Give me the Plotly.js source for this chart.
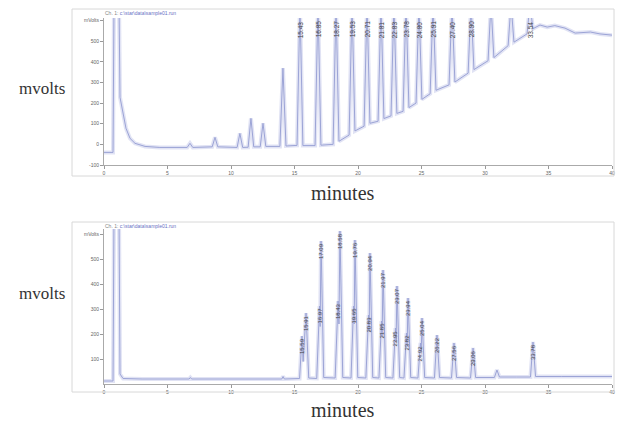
<!DOCTYPE html>
<html>
<head>
<meta charset="utf-8">
<script src="https://cdn.plot.ly/plotly-3.0.1.min.js"></script>
<style>html,body{margin:0;padding:0;background:#fff}#chart{width:625px;height:426px}</style>
</head>
<body>
<div id="chart"></div>
<script>
// ---- Top chromatogram ----
const topTime = [0,0.63,0.71,0.79,1.18,1.26,1.50,1.73,2.05,2.44,3.23,4.4,6.55,6.77,6.99,8.52,8.74,8.96,10.0,10.48,10.7,10.92,11.35,11.57,11.79,12.30,12.52,12.74,13.85,14.09,14.33,
  15.20,15.43,15.66,16.62,16.85,17.08,18.04,18.27,18.50,19.30,19.53,19.76,20.48,20.71,20.94,21.58,21.81,22.04,22.60,22.83,23.06,23.55,23.78,24.01,24.57,24.80,25.03,25.68,25.91,26.14,
  27.17,27.40,27.63,28.67,28.90,29.13,30.24,30.47,30.70,31.82,32.05,32.28,33.31,33.54,33.77,34.33,34.9,35.5,36.3,37.1,38.3,39.05,40];
const topSignal = [-39,-39,-39,700,700,228,141,78,29,5,-10,-15,-15,5,-15,-12,34,-12,-14,-15,53,-15,-14,126,-12,-12,102,-10,-10,369,-8,
  -5,680,-6,-6,680,-4,0,680,15,45,680,65,88,680,102,112,680,125,138,680,150,160,680,178,200,680,218,245,680,262,
  288,680,302,345,680,362,405,680,420,478,680,495,535,680,560,578,568,575,563,539,544,535,529];
const topLabelTime = [15.43,16.85,18.27,19.53,20.71,21.81,22.83,23.78,24.80,25.91,27.40,28.90,33.54];
const topLabelText = ["15.43","16.85","18.27","19.53","20.71","21.81","22.83","23.78","24.80","25.91","27.40","28.90","33.54"];

// ---- Bottom chromatogram ----
const botTime = [0,0.63,0.71,0.79,1.18,1.26,1.5,3,6.7,6.8,6.9,14.0,14.1,14.2,
  15.40,15.59,15.68,15.91,16.12,16.75,16.97,17.02,17.09,17.30,18.20,18.43,18.50,18.58,18.80,
  19.45,19.65,19.70,19.76,19.98,20.62,20.83,20.88,20.94,21.16,21.65,21.85,21.90,21.97,22.18,
  22.75,22.95,23.00,23.07,23.28,23.62,23.82,23.87,23.94,24.15,24.72,24.92,24.98,25.04,25.25,
  26.02,26.22,26.42,27.36,27.56,27.76,28.86,29.06,29.26,30.74,30.94,31.14,32.5,33.58,33.78,33.98,36,40];
const botSignal = [12,12,12,700,700,40,22,20,20,26,20,20,30,20,
  22,192,90,284,24,22,312,230,572,26,24,332,240,612,26,
  24,312,240,576,26,24,276,210,524,26,24,252,190,456,26,
  24,224,170,392,26,24,204,150,344,26,24,164,130,264,26,
  24,196,26,24,164,26,24,144,26,26,56,28,28,28,168,30,30,30];
const botLabelTime = [15.59,15.91,16.97,17.09,18.43,18.58,19.65,19.76,20.83,20.94,21.85,21.97,22.95,23.07,23.82,23.94,24.92,25.04,26.22,27.56,29.06,33.78];
const botLabelValue = [192,284,312,572,332,612,312,576,276,524,252,456,224,392,204,344,164,264,196,164,144,168];
const botLabelText = ["15.59","15.91","16.97","17.09","18.43","18.58","19.65","19.76","20.83","20.94","21.85","21.97","22.95","23.07","23.82","23.94","24.92","25.04","26.22","27.56","29.06","33.78"];

const xTicks = [0,5,10,15,20,25,30,35,40];
const xTickText = ["0","5","10","15","20","25","30","35","40"];
const topYTicks = [-100,0,100,200,300,400,500,600];
const topYText = ["-100","0","100","200","300","400","500","mVolts"];
const botYTicks = [100,200,300,400,500,600];
const botYText = ["100","200","300","400","500","mVolts"];

const W = 625, H = 426;
const px = v => v / W, py = v => 1 - v / H;

const traces = [];
[[topTime, topSignal, 'x', 'y'], [botTime, botSignal, 'x2', 'y2']].forEach(([xs, ys, xa, ya]) => {
  traces.push({x: xs, y: ys, type: 'scatter', mode: 'lines', xaxis: xa, yaxis: ya,
    line: {color: 'rgba(200,204,235,0.55)', width: 4}, hoverinfo: 'skip'});
  traces.push({x: xs, y: ys, type: 'scatter', mode: 'lines', xaxis: xa, yaxis: ya,
    line: {color: '#9ca4d6', width: 1}, hoverinfo: 'skip'});
});

const tickFont = {family: 'Liberation Sans, Arial, sans-serif', size: 5, color: '#666'};
function xAx(anchor) {
  return {domain: [px(104), px(612)], range: [0, 40], anchor: anchor, tickvals: xTicks, ticktext: xTickText,
    showline: true, linecolor: '#aaa', linewidth: 1, ticks: 'outside', ticklen: 3, tickcolor: '#999',
    tickfont: tickFont, showgrid: false, zeroline: false, fixedrange: true};
}
function yAx(anchor, dom, rng, tv, tt) {
  return {domain: dom, range: rng, anchor: anchor, tickvals: tv, ticktext: tt,
    showline: true, linecolor: '#aaa', linewidth: 1, ticks: 'outside', ticklen: 3, tickcolor: '#999',
    tickfont: tickFont, showgrid: false, zeroline: false, fixedrange: true};
}

const annotations = [];
topLabelTime.forEach((t, i) => annotations.push({x: t, y: 608, xref: 'x', yref: 'y', text: topLabelText[i],
  showarrow: false, textangle: -90, yanchor: 'top', xanchor: 'center',
  font: {family: 'Liberation Sans, Arial, sans-serif', size: 6.5, color: '#444'}}));
botLabelTime.forEach((t, i) => annotations.push({x: t, y: botLabelValue[i], xref: 'x2', yref: 'y2', text: botLabelText[i],
  showarrow: false, textangle: -90, yanchor: 'top', xanchor: 'center',
  font: {family: 'Liberation Sans, Arial, sans-serif', size: 6, color: '#444'}}));

const serif = 'Liberation Serif, Times New Roman, serif';
[[88, 193], [293, 410]].forEach(([ym, yx]) => {
  annotations.push({x: px(42), y: py(ym), xref: 'paper', yref: 'paper', text: 'mvolts', showarrow: false,
    xanchor: 'center', yanchor: 'middle', font: {family: serif, size: 17, color: '#333'}});
  annotations.push({x: px(343), y: py(yx), xref: 'paper', yref: 'paper', text: 'minutes', showarrow: false,
    xanchor: 'center', yanchor: 'middle', font: {family: serif, size: 20, color: '#333'}});
});
[13, 226].forEach(y => annotations.push({x: px(103), y: py(y), xref: 'paper', yref: 'paper',
  text: 'Ch. 1: <span style="color:#6870c4">c:\\star\\data\\sample01.run</span>', showarrow: false,
  xanchor: 'left', yanchor: 'middle', font: {family: 'Liberation Sans, Arial, sans-serif', size: 5, color: '#888'}}));

const shapes = [
  {type: 'rect', xref: 'paper', yref: 'paper', x0: px(72), x1: px(614), y0: py(176), y1: py(9),
   line: {color: '#d8d8d8', width: 1}},
  {type: 'rect', xref: 'paper', yref: 'paper', x0: px(72), x1: px(614), y0: py(392), y1: py(222),
   line: {color: '#d8d8d8', width: 1}}
];

const layout = {
  width: W, height: H, margin: {l: 0, r: 0, t: 0, b: 0},
  paper_bgcolor: '#fff', plot_bgcolor: '#fff', showlegend: false,
  xaxis: xAx('y'),
  yaxis: yAx('x', [py(165), py(18)], [-100, 612], topYTicks, topYText),
  xaxis2: xAx('y2'),
  yaxis2: yAx('x2', [py(384), py(229)], [0, 620], botYTicks, botYText),
  annotations: annotations, shapes: shapes
};

Plotly.newPlot('chart', traces, layout, {displayModeBar: false, staticPlot: true});
</script>
</body>
</html>
